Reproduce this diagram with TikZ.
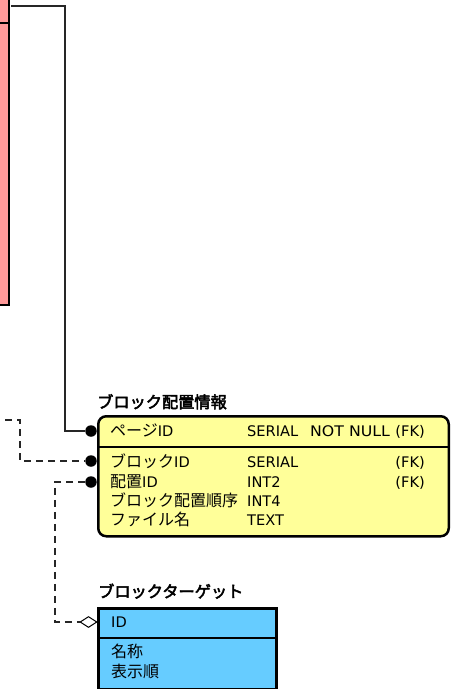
\documentclass[tikz,border=0pt]{standalone}
\usepackage{fontspec}
\setmainfont{DejaVu Sans}
\newfontfamily\jp{Noto Sans CJK JP}
\newfontfamily\jpb[FakeBold=3]{Noto Sans CJK JP}
\newcommand\Jtxt[1]{{\fontsize{16}{18}\selectfont\jp #1}}
\usetikzlibrary{shapes.geometric}
\definecolor{pinkc}{RGB}{255,153,153}
\definecolor{yelc}{RGB}{255,255,153}
\definecolor{bluc}{RGB}{102,204,255}
\begin{document}
\begin{tikzpicture}[x=1pt,y=-1pt,
 txt/.style={anchor=base west, inner sep=0, font=\fontsize{14.6}{18}\selectfont},
 txtr/.style={anchor=base east, inner sep=0, font=\fontsize{14.6}{18}\selectfont},
 ttl/.style={anchor=base west, inner sep=0, font=\fontsize{16.2}{18}\selectfont\jpb},
 ent/.style={draw=black, line width=2.5pt, inner sep=0, anchor=north west},
 sep/.style={draw=black, line width=1.4pt},
 conn/.style={draw=black!85, line width=1.1pt},
 dconn/.style={conn, dash pattern=on 7pt off 5pt},
 dotend/.style={circle, fill=black, inner sep=0, minimum size=11.5pt},
 dia/.style={diamond, draw=black, fill=white, line width=1pt, inner sep=0, minimum width=17pt, minimum height=11pt, aspect=1.5}
]
\useasboundingbox (0,0) rectangle (457,689);
\begin{scope}
\clip (0,0) rectangle (457,689);
% pink entity (mostly off-picture)
\node[ent, fill=pinkc, anchor=south east, minimum width=40pt, minimum height=340pt] (pk) at (10,306) {};
\draw[sep] (-30,23) -- (pk.east |- 0,23);
% yellow entity
\node[ent, fill=yelc, rounded corners=8pt, minimum width=350.5pt, minimum height=120pt] (yb) at (97,415) {};
\draw[sep] (yb.west |- 0,447) -- (yb.east |- 0,447);
% blue entity
\node[ent, fill=bluc, minimum width=178pt, minimum height=81pt] (bb) at (97,607) {};
\draw[sep] (bb.west |- 0,638) -- (bb.east |- 0,638);
\end{scope}

% titles
\node[ttl] (t1) at (97,408) {ブロック配置情報};
\node[ttl] (t2) at (98,597.5) {ブロックターゲット};

% yellow rows
\node[txt] (r1) at (110,436.5) {\Jtxt{ページ}ID};
\node[txt] (r2) at (110,467.5) {\Jtxt{ブロック}ID};
\node[txt] (r3) at (110,487.5) {\Jtxt{配置}ID};
\node[txt] (r4) at (110,506) {\Jtxt{ブロック配置順序}};
\node[txt] (r5) at (110,525.5) {\Jtxt{ファイル名}};
\node[txt] (y1) at (247,436.5) {SERIAL};
\node[txt] (n1) at (310,436.5) {\scalebox{1.08}[1]{NOT NULL}};
\node[txtr] (f1) at (425,436.5) {(FK)};
\node[txt] (y2) at (247,467.5) {SERIAL};
\node[txtr] (f2) at (425,467.5) {(FK)};
\node[txt] (y3) at (247,487.5) {INT2};
\node[txtr] (f3) at (425,487.5) {(FK)};
\node[txt] (y4) at (247,506) {INT4};
\node[txt] (y5) at (247,525.5) {TEXT};

% blue rows
\node[txt] (b1) at (111,627.5) {ID};
\node[txt] (b2) at (111,657.5) {\Jtxt{名称}};
\node[txt] (b3) at (111,677) {\Jtxt{表示順}};

% connector ends
\node[dotend] (d1) at (91,431) {};
\node[dotend] (d2) at (91,461) {};
\node[dotend] (d3) at (91,482) {};
\node[dia] (dm) at (88.5,622) {};
\coordinate (pkout) at (11,6);
\coordinate (lf1) at (5,420);

% connectors
\draw[conn] (pkout) -- ++(54,0) |- (d1);
\draw[dconn] (lf1) -- ++(15,0) |- (d2);
\draw[dconn] (d3) -- ++(-36,0) |- (dm);
\end{tikzpicture}
\end{document}
